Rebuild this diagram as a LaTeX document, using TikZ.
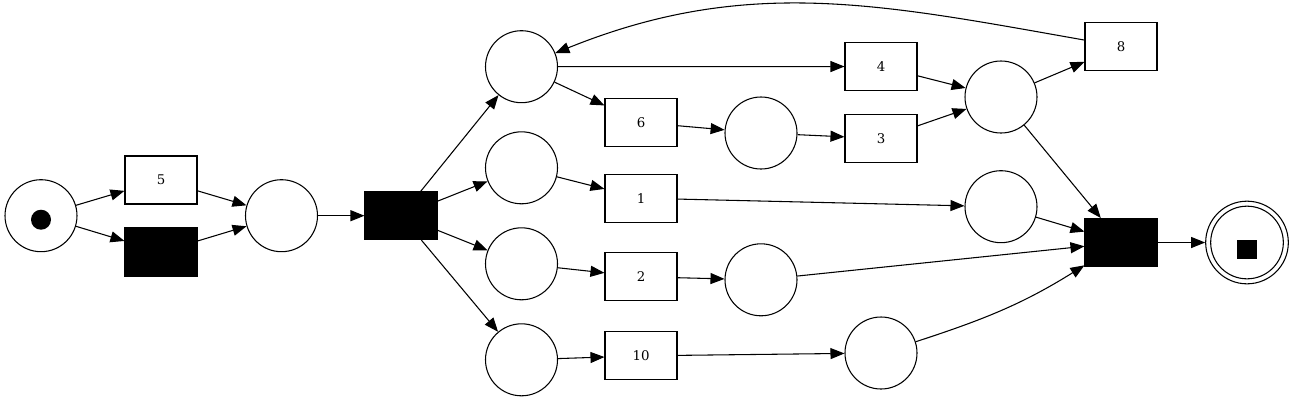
\documentclass[tikz,border=0pt]{standalone}
\usepackage{fontspec}
\setmainfont{DejaVu Serif}
\usetikzlibrary{arrows.meta}
\begin{document}
\begin{tikzpicture}[x=0.75pt,y=-0.75pt,
  place/.style={circle,draw,line width=0.8pt,minimum size=54pt,inner sep=0pt},
  trans/.style={rectangle,draw,line width=0.8pt,minimum width=54pt,minimum height=36pt,inner sep=0pt,font=\fontsize{10}{12}\selectfont},
  silent/.style={trans,fill=black},
  arc/.style={line width=0.8pt,-{Triangle[length=10.5pt,width=8.25pt]}}]
\useasboundingbox (0,0) rectangle (1293,401);
% places
\node[place] (pstart) at (41,215.7) {};
\node[circle,fill=black,minimum size=15pt,inner sep=0pt] (tok) at (41,219.7) {};
\node[place] (pA) at (281.5,215.7) {};
\node[place] (p1) at (521.5,66.7) {};
\node[place] (p2) at (521.5,167.8) {};
\node[place] (p3) at (521.5,263.8) {};
\node[place] (p4) at (521.5,359.8) {};
\node[place] (p6) at (761,133) {};
\node[place] (p9) at (761,279.8) {};
\node[place] (p10) at (881,353) {};
\node[place] (p7) at (1001,97) {};
\node[place] (p8) at (1001,206.7) {};
\node[circle,draw,line width=0.8pt,minimum size=62pt,inner sep=0pt] (pend) at (1247,242.5) {};
\node[circle,draw,line width=0.8pt,minimum size=54.5pt,inner sep=0pt] (pendin) at (1247,242.5) {};
\node[fill=black,minimum size=14.5pt,inner sep=0pt] (sq) at (1247,249.7) {};
% transitions
\node[trans] (t5) at (161,180) {5};
\node[silent] (ts1) at (161,252) {};
\node[silent] (tsplit) at (401,215.7) {};
\node[trans] (t4) at (881,66.5) {4};
\node[trans] (t6) at (641,122.5) {6};
\node[trans] (t3) at (881,138.5) {3};
\node[trans] (t1) at (641,198.2) {1};
\node[trans] (t2) at (641,276.8) {2};
\node[trans] (t10) at (641,355.8) {10};
\node[trans] (t8) at (1121,46.5) {8};
\node[silent] (tjoin) at (1121,242.5) {};
% arcs
\draw[arc] (pstart) -- (t5);
\draw[arc] (pstart) -- (ts1);
\draw[arc] (t5) -- (pA);
\draw[arc] (ts1) -- (pA);
\draw[arc] (pA) -- (tsplit);
\draw[arc] (tsplit) -- (p1);
\draw[arc] (tsplit) -- (p2);
\draw[arc] (tsplit) -- (p3);
\draw[arc] (tsplit) -- (p4);
\draw[arc] (p1) -- (t4);
\draw[arc] (p1) -- (t6);
\draw[arc] (t6) -- (p6);
\draw[arc] (p6) -- (t3);
\draw[arc] (t4) -- (p7);
\draw[arc] (t3) -- (p7);
\draw[arc] (p7) -- (t8);
\draw[arc] (t8) to[out=170,in=22] (p1);
\draw[arc] (p7) -- (tjoin);
\draw[arc] (p2) -- (t1);
\draw[arc] (t1) -- (p8);
\draw[arc] (p8) -- (tjoin);
\draw[arc] (p3) -- (t2);
\draw[arc] (t2) -- (p9);
\draw[arc] (p9) -- (tjoin);
\draw[arc] (p4) -- (t10);
\draw[arc] (t10) -- (p10);
\draw[arc] (p10) to[out=18,in=212] (tjoin);
\draw[arc] (tjoin) -- (pend);
\end{tikzpicture}
\end{document}
